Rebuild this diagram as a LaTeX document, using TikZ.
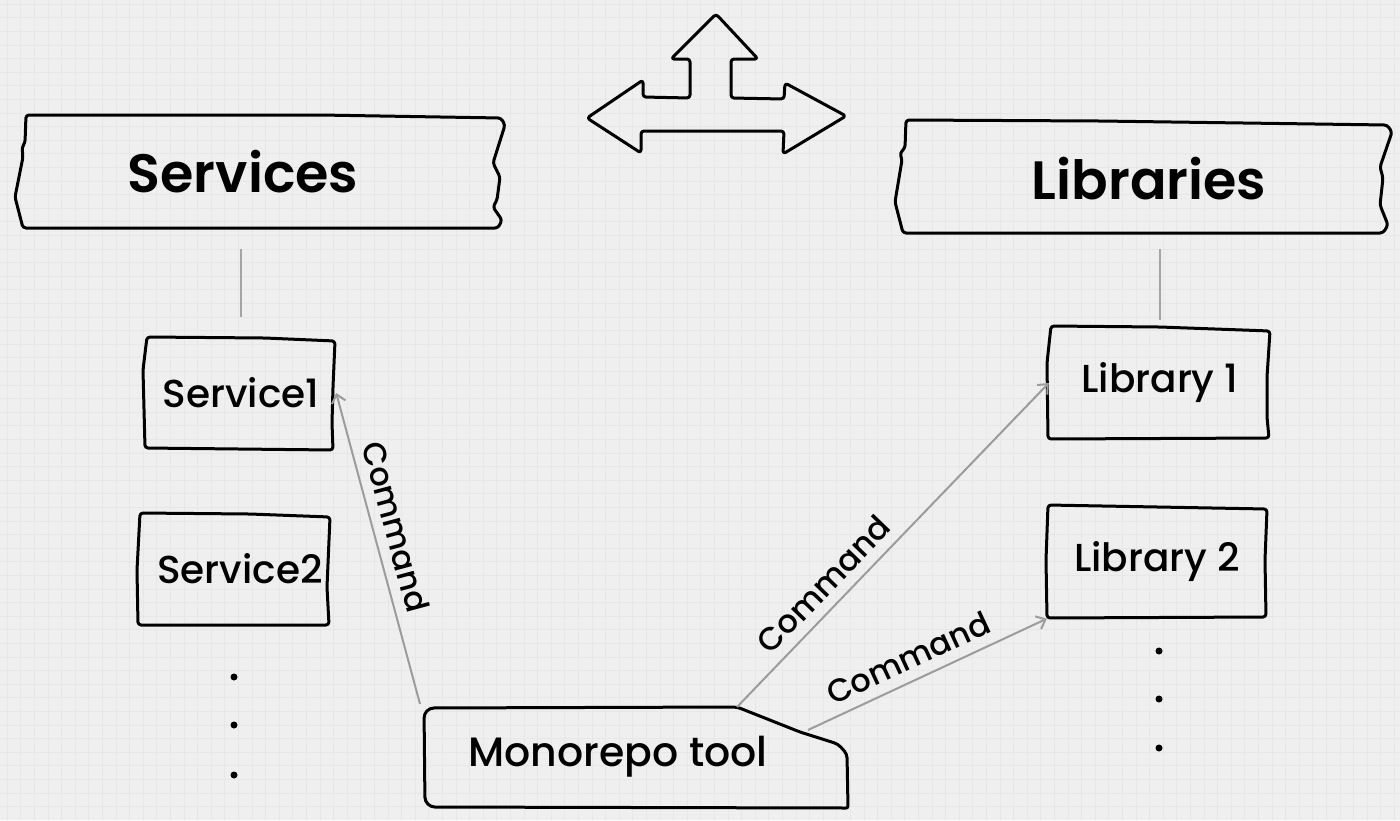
\documentclass[tikz,border=0pt]{standalone}
\usepackage{fontspec}
\setmainfont{Poppins Medium}[BoldFont={Poppins SemiBold}]
\usetikzlibrary{arrows.meta}

\definecolor{paper}{HTML}{EFEFEF}
\definecolor{gridgray}{HTML}{E7E7E7}
\definecolor{arrowgray}{HTML}{9C9C9C}
\definecolor{linkgray}{HTML}{A4A4A4}

\begin{document}
\begin{tikzpicture}[x=1pt,y=-1pt,
  sketch/.style={line width=3pt,line join=round,line cap=round,rounded corners=3pt},
  cmd/.style={line width=2pt,draw=arrowgray,-{Straight Barb[length=8pt,width=14pt,line width=2pt]}},
  cmdlabel/.style={font=\fontsize{32}{36}\selectfont,sloped,above,inner sep=10pt},
  link/.style={line width=2.2pt,draw=linkgray},
  headnode/.style={font=\fontsize{54}{60}\selectfont\bfseries,minimum height=113,inner sep=0pt},
  itemnode/.style={font=\fontsize{39}{46}\selectfont,minimum width=#1,minimum height=113,inner sep=0pt},
  itemnode/.default=190]

% paper
\fill[paper] (0,0) rectangle (1400,820);
\useasboundingbox (0,0) rectangle (1400,820);
\foreach \gx in {7,20.6,...,1400} \draw[gridgray,line width=0.6pt] (\gx,0)--(\gx,820);
\foreach \gy in {4,17.6,...,820} \draw[gridgray,line width=0.6pt] (0,\gy)--(1400,\gy);

% three way arrow
\draw[sketch] (716,14)--(758,59)--(731,59)--(731,98)--(784,99)--(785,83)--(846,116)
  --(783,154)--(784,131)--(641,131)--(641,153)--(587,118)--(643,80)--(643,97)
  --(690,98)--(690,59)--(671,59)--cycle;

% headers
\node[headnode] (services) at (243,172) {Services};
\node[headnode] (libraries) at (1149,179) {Libraries};

\draw[sketch] (26,115)--(320,115)--(501,118)--(505,125)--(493,163)--(500,177)--(497,200)
  --(493,207)--(502,220)--(498,228)--(23,228)--(15,197)--(23,157)--(22,147)--(25,143)--cycle;
\draw[sketch] (906,120)--(1100,121)--(1387,125)--(1392,132)--(1380,167)--(1383,178)--(1380,205)
  --(1388,225)--(1383,233)--(903,233)--(895,202)--(902,160)--(900,153)--(905,148)--cycle;

% services
\node[itemnode] (service1) at (241,393) {Service1};
\node[itemnode] (service2) at (240,569) {Service2};
\draw[sketch] (147,337)--(265,338)--(335,341)--(333,387)--(332,423)--(333,450)--(145,448)--(143,370)--cycle;
\draw[sketch] (140,513)--(250,514)--(330,517)--(327,587)--(329,625)--(138,625)--(137,570)--cycle;
\foreach \dy in {677,725,775} \fill (234,\dy) circle[radius=3.5pt];

% libraries
\node[itemnode=222] (lib1) at (1160,383) {Library 1};
\node[itemnode=220] (lib2) at (1157,562) {Library 2};
\draw[sketch] (1051,326)--(1160,327)--(1270,331)--(1267,377)--(1267,417)--(1269,438)--(1048,439)--(1047,363)--cycle;
\draw[sketch] (1048,505)--(1267,509)--(1265,560)--(1266,617)--(1047,618)--(1046,560)--cycle;
\foreach \dy in {651,699,748} \fill (1159,\dy) circle[radius=3.5pt];

\draw[link,shorten <=20pt,shorten >=19pt] (services.south -| service1) -- (service1.north);
\draw[link,shorten <=13pt,shorten >=6pt] (libraries.south -| lib1) -- (lib1.north);

% monorepo tool
\node[font=\fontsize{41}{48}\selectfont] (mono) at (618,757) {Monorepo tool};
\coordinate (mono corner) at (420,704);
\coordinate (mono cut) at (737,707);
\coordinate (mono slope) at (808,730);
\draw[sketch,rounded corners=10pt] (mono cut)--(424,708)--(425,807) [rounded corners=2pt] --(848,808)
  [rounded corners=4pt] --(847,754)--(838,744)--(800,732)--cycle;

% commands
\draw[cmd] (mono corner) -- (service1.east) node[cmdlabel,pos=0.55] {Command};
\draw[cmd] (mono cut) -- (lib1.west) node[cmdlabel,pos=0.33] {Command};
\draw[cmd] (mono slope) -- (lib2.south west) node[cmdlabel,pos=0.46] {Command};

\end{tikzpicture}
\end{document}
